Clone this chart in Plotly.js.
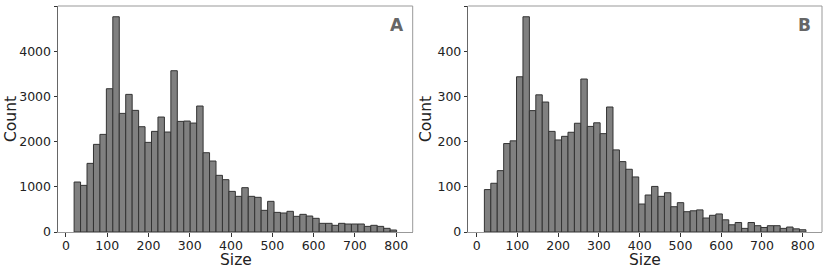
<!DOCTYPE html>
<html>
<head>
<meta charset="utf-8">
<script src="https://cdn.plot.ly/plotly-3.0.1.min.js"></script>
<style>
html,body{margin:0;padding:0;background:#fff;}
#chart{width:831px;height:268px;}
</style>
</head>
<body>
<div id="chart"></div>
<script>
// Panel A histogram: bins start, width, counts
const binStartA = 20;
const binWidthA = 15.62;
const countsA = [1107, 1033, 1520, 1941, 2162, 3173, 4767, 2627, 3048, 2694,
                 2332, 1985, 2229, 2546, 2214, 3572, 2450, 2457, 2413, 2790,
                 1756, 1572, 1255, 1159, 900, 790, 982, 790, 768, 480,
                 679, 435, 421, 458, 347, 391, 354, 303, 192, 192,
                 148, 192, 177, 177, 177, 125, 148, 125, 81, 44];
// Panel B histogram
const binStartB = 19;
const binWidthB = 15.78;
const countsB = [94, 108, 136, 196, 202, 344, 477, 269, 304, 288,
                 223, 204, 212, 221, 241, 339, 234, 242, 218, 277,
                 182, 156, 139, 122, 62, 82, 101, 79, 87, 56,
                 65, 45, 47, 49, 31, 37, 40, 27, 16, 21,
                 8, 21, 14, 10, 14, 14, 8, 11, 7, 5];
const xTicks = [0, 100, 200, 300, 400, 500, 600, 700, 800];
const panelLabels = ['A', 'B'];
const xLabel = 'Size';
const yLabel = 'Count';

function centers(start, w, n){ const c=[]; for(let i=0;i<n;i++) c.push(start + w*(i+0.5)); return c; }
function rangeFor(start, w, n, ymax){
  const lo = start, hi = start + w*n, m = 0.05*(hi-lo);
  return {x:[lo-m, hi+m], y:[0, ymax*1.05]};
}
const rA = rangeFor(binStartA, binWidthA, countsA.length, Math.max(...countsA));
const rB = rangeFor(binStartB, binWidthB, countsB.length, Math.max(...countsB));

const barStyle = {color:'#808080', line:{color:'#333333', width:1}};
const traces = [
  {type:'bar', x:centers(binStartA, binWidthA, countsA.length), y:countsA,
   width:countsA.map(()=>binWidthA), marker:barStyle, xaxis:'x', yaxis:'y', hoverinfo:'x+y'},
  {type:'bar', x:centers(binStartB, binWidthB, countsB.length), y:countsB,
   width:countsB.map(()=>binWidthB), marker:barStyle, xaxis:'x2', yaxis:'y2', hoverinfo:'x+y'}
];

const font = {family:'DejaVu Sans', size:12.5, color:'#222'};
const titleFont = {family:'DejaVu Sans', size:15.5, color:'#222'};
function xax(domain, range, anchor){
  return {domain:domain, range:range, anchor:anchor, tickvals:xTicks, ticktext:xTicks.map(String),
    ticks:'outside', ticklen:3.5, tickwidth:1, tickcolor:'#333', showgrid:false, zeroline:false,
    showline:true, linecolor:'#999', linewidth:1, tickfont:font, ticklabelstandoff:-2};
}
function yax(range, anchor, dtick){
  return {domain:[0,1], range:range, anchor:anchor, dtick:dtick,
    ticks:'outside', ticklen:3.5, tickwidth:1, tickcolor:'#333', showgrid:false, zeroline:false,
    showline:true, linecolor:'#666', linewidth:1, tickfont:font};
}
const M = {l:58, r:9, t:6, b:36};
const plotW = 831 - M.l - M.r, plotH = 268 - M.t - M.b;
const px2x = p => (p - M.l) / plotW;
const py2y = p => (268 - M.b - p) / plotH;
const layout = {
  width:831, height:268, margin:M,
  paper_bgcolor:'#fff', plot_bgcolor:'#fff', showlegend:false, bargap:0,
  font:font,
  xaxis: xax([0, px2x(412.7)], rA.x, 'y'),
  yaxis: yax(rA.y, 'x', 1000),
  xaxis2: xax([px2x(468.3), 1], rB.x, 'y2'),
  yaxis2: yax(rB.y, 'x2', 100),
  shapes: [
    {type:'line', xref:'x domain', yref:'y domain', x0:0, x1:1, y0:1, y1:1, line:{color:'#999', width:1}},
    {type:'line', xref:'x domain', yref:'y domain', x0:1, x1:1, y0:0, y1:1, line:{color:'#999', width:1}},
    {type:'line', xref:'x2 domain', yref:'y2 domain', x0:0, x1:1, y0:1, y1:1, line:{color:'#999', width:1}},
    {type:'line', xref:'x2 domain', yref:'y2 domain', x0:1, x1:1, y0:0, y1:1, line:{color:'#999', width:1}}
  ],
  annotations: [
    {text:'<b>'+panelLabels[0]+'</b>', xref:'x domain', yref:'y domain', x:0.956, y:0.917,
     xanchor:'center', yanchor:'middle', showarrow:false, font:{family:'DejaVu Sans', size:17, color:'#666'}},
    {text:'<b>'+panelLabels[1]+'</b>', xref:'x2 domain', yref:'y2 domain', x:0.951, y:0.917,
     xanchor:'center', yanchor:'middle', showarrow:false, font:{family:'DejaVu Sans', size:17, color:'#666'}},
    {text:xLabel, xref:'paper', yref:'paper', x:px2x(235.5), y:py2y(259.8), xanchor:'center', yanchor:'middle',
     showarrow:false, font:titleFont},
    {text:xLabel, xref:'paper', yref:'paper', x:px2x(645), y:py2y(259.8), xanchor:'center', yanchor:'middle',
     showarrow:false, font:titleFont},
    {text:yLabel, xref:'paper', yref:'paper', x:px2x(11), y:py2y(119), xanchor:'center', yanchor:'middle',
     textangle:-90, showarrow:false, font:titleFont},
    {text:yLabel, xref:'paper', yref:'paper', x:px2x(426), y:py2y(119), xanchor:'center', yanchor:'middle',
     textangle:-90, showarrow:false, font:titleFont}
  ]
};
Plotly.newPlot('chart', traces, layout, {staticPlot:true, displayModeBar:false});
</script>
</body>
</html>
